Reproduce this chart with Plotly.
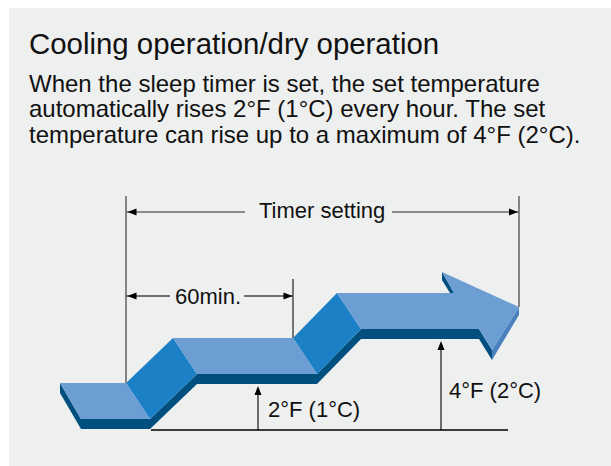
import plotly.graph_objects as go

# ---- content (text) ----
title_text = "Cooling operation/dry operation"
body_lines = [
    "When the sleep timer is set, the set temperature",
    "automatically rises 2°F (1°C) every hour. The set",
    "temperature can rise up to a maximum of 4°F (2°C).",
]
timer_label = "Timer setting"
interval_label = "60min."
rise_labels = ["2°F (1°C)", "4°F (2°C)"]

# ---- diagram values ----
step_levels = [0, 1, 2]            # temperature rise in °C for each step
step_start_x = [60, 173, 337]      # back-left x of each step's top face
step_end_x = [126, 293, 454]       # back-right x of each step's top face

# ---- geometry/style constants ----
W, H = 611, 466
BASE_BACK_Y = 383      # back edge y of the level-0 step
RISE = 45              # pixels per 1°C
DX, DY = 24, 36        # depth skew of top face
THK = 10               # slab thickness
TOP = "#6c9dd3"
RISER = "#1b80c5"
DARK = "#004f7f"
SIDE = "#4a82c0"
BG = "#eeefef"
FONT = "Liberation Sans, Arial, Helvetica, sans-serif"


def yb(level):
    return BASE_BACK_Y - RISE * level


def path(pts):
    return "M " + " L ".join(f"{x},{y}" for x, y in pts) + " Z"


shapes = []


def poly(pts, color, line=None):
    shapes.append(dict(type="path", path=path(pts), xref="x", yref="y",
                       fillcolor=color, line=dict(width=0) if line is None else line,
                       layer="above"))


def seg(x0, y0, x1, y1, color, width):
    shapes.append(dict(type="line", x0=x0, y0=y0, x1=x1, y1=y1, xref="x", yref="y",
                       line=dict(color=color, width=width), layer="above"))


def head(tx, ty, direction, length=9, half=3.5, color="black"):
    if direction == "left":
        pts = [(tx, ty), (tx + length, ty - half), (tx + length, ty + half)]
    elif direction == "right":
        pts = [(tx, ty), (tx - length, ty - half), (tx - length, ty + half)]
    else:  # up
        pts = [(tx, ty), (tx - half, ty + length), (tx + half, ty + length)]
    poly(pts, color)


# background panel
shapes.append(dict(type="rect", x0=9, y0=8, x1=W, y1=H, xref="x", yref="y",
                   fillcolor=BG, line=dict(width=0), layer="below"))

# ---- staircase arrow ----
y0, y1, y2 = (yb(l) for l in step_levels)
s0, s1, s2 = step_start_x
e0, e1, e2 = step_end_x

# dark faces (front and sides)
poly([(s0, y0), (s0 + 21, y0 + DY), (s0 + 21, y0 + DY + THK), (s0, y0 + THK)], DARK)
poly([(s0 + 21, y0 + DY), (e0 + DX, y0 + DY), (e0 + DX, y0 + DY + THK), (s0 + 21, y0 + DY + THK)], DARK)
poly([(e0 + DX, y0 + DY), (s1 + DX, y1 + DY), (s1 + DX, y1 + DY + THK), (e0 + DX, y0 + DY + THK)], DARK)
poly([(s1 + DX, y1 + DY), (e1 + DX, y1 + DY), (e1 + DX, y1 + DY + THK), (s1 + DX, y1 + DY + THK)], DARK)
poly([(e1 + DX, y1 + DY), (s2 + DX, y2 + DY), (s2 + DX, y2 + DY + THK), (e1 + DX, y1 + DY + THK)], DARK)
nfx, nfy = e2 + DX + 1, y2 + DY        # notch, front
poly([(s2 + DX, y2 + DY), (nfx, nfy), (nfx, nfy + THK), (s2 + DX, y2 + DY + THK)], DARK)
# arrow head points
barb_back = (e2 - 12, y2 - 21)
tip = (519, 307)
barb_front = (nfx + 13, nfy + 21)
poly([(nfx, nfy), barb_front, (barb_front[0], barb_front[1] + THK), (nfx, nfy + THK)], DARK)
poly([tip, (tip[0], tip[1] + 8), (barb_front[0], barb_front[1] + THK), barb_front], SIDE)
poly([barb_back, (barb_back[0], barb_back[1] + 8), (e2 - 4, y2), (e2, y2)], DARK)

# risers
poly([(e0, y0), (s1, y1), (s1 + DX, y1 + DY), (e0 + DX, y0 + DY)], RISER)
poly([(e1, y1), (s2, y2), (s2 + DX, y2 + DY), (e1 + DX, y1 + DY)], RISER)

# top faces
poly([(s0, y0), (e0, y0), (e0 + DX, y0 + DY), (s0 + 21, y0 + DY)], TOP)
poly([(s1, y1), (e1, y1), (e1 + DX, y1 + DY), (s1 + DX, y1 + DY)], TOP)
poly([(s2, y2), (e2, y2), barb_back, tip, barb_front, (nfx, nfy), (s2 + DX, y2 + DY)], TOP)

# ---- dimension lines ----
GREY = "#6a6a6a"
# timer setting
seg(e0, 196, e0, y0, GREY, 1.6)
seg(tip[0], 196, tip[0], tip[1], GREY, 1.6)
seg(e0, 212, 245, 212, GREY, 1.6)
seg(392, 212, tip[0], 212, GREY, 1.6)
head(e0 + 1.5, 212, "left")
head(tip[0] - 1, 212, "right")
# 60 min
seg(e1, 279, e1, y1, "#222222", 1.2)
seg(e0, 296, 170, 296, "#444444", 1.3)
seg(244, 296, e1, 296, "#444444", 1.3)
head(e0 + 1.5, 296, "left")
head(e1 - 0.5, 296, "right")
# baseline and rise arrows
base_y = y0 + DY + THK + 1
seg(e0 + DX + 1, base_y, 508, base_y, "black", 1.3)
seg(258, base_y, 258, y1 + DY + THK + 8, "black", 1.1)
head(258, y1 + DY + THK + 2, "up")
seg(441, base_y, 441, y2 + DY + THK + 8, "black", 1.1)
head(441, y2 + DY + THK + 2, "up")

# ---- text ----
annotations = []


def txt(x, y, s, size, anchor="left"):
    annotations.append(dict(x=x, y=y, xref="x", yref="y", text=s, showarrow=False,
                            xanchor=anchor, yanchor="middle",
                            font=dict(family=FONT, size=size, color="#111111")))


txt(27, 43.0, title_text, 29.4)
for i, line in enumerate(body_lines):
    txt(27, 83.3 + 25.4 * i, line, 24)
txt(322, 210.6, timer_label, 22, "center")
txt(208.3, 296.3, interval_label, 22, "center")
txt(266, 409.6, rise_labels[0], 22)
txt(447, 390.6, rise_labels[1], 22)

fig = go.Figure()
fig.update_layout(
    width=W, height=H, margin=dict(l=0, r=0, t=0, b=0),
    paper_bgcolor="white", plot_bgcolor="white",
    xaxis=dict(range=[0, W], visible=False, fixedrange=True),
    yaxis=dict(range=[H, 0], visible=False, fixedrange=True),
    shapes=shapes, annotations=annotations, showlegend=False,
)
fig.write_html(
    "out.html",
    config={"displayModeBar": False},
    post_script="document.body.style.margin='0';document.body.style.overflow='hidden';",
)
